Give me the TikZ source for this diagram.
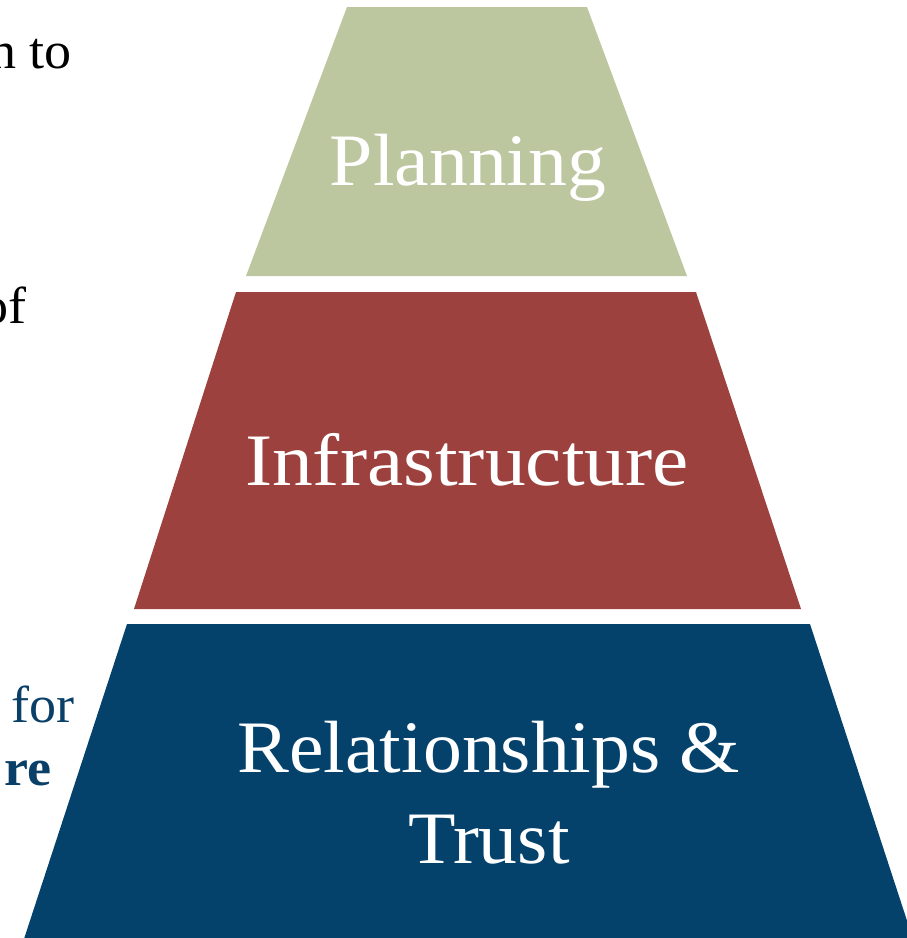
\documentclass[tikz,border=0pt]{standalone}
\usepackage{fontspec}
\setmainfont{Liberation Serif}
\newfontfamily\bigserif{Liberation Serif}[FakeStretch=1.05]
\newfontfamily\sideserif{Liberation Serif}[FakeStretch=1.04]
\definecolor{pgreen}{RGB}{189,199,159}
\definecolor{pred}{RGB}{156,65,61}
\definecolor{pblue}{RGB}{4,66,108}
\definecolor{tblue}{RGB}{10,64,104}
\tikzset{
  layerlabel/.style={text=white, inner sep=0pt, align=center,
    font=\bigserif\fontsize{74}{91}\selectfont},
  sidetext/.style={inner sep=0pt, anchor=base east,
    font=\sideserif\fontsize{52}{62}\selectfont}
}
\begin{document}
\begin{tikzpicture}[x=1pt,y=-1pt]
\useasboundingbox (0,0) rectangle (907,938);
% layers
\fill[pgreen] (347,7) -- (587,7) -- (687,276) -- (246,276) -- cycle;
\fill[pred] (236,292) -- (696,292) -- (801,609) -- (134,609) -- cycle;
\fill[pblue] (127,624) -- (810,624) -- (914,942) -- (23,942) -- cycle;
% labels
\node[layerlabel, anchor=base] (plan) at (468,185) {Planning};
\node[layerlabel, anchor=base] (infra) at (467,485) {\scalebox{1.05}[1]{Infrastructure}};
\node[layerlabel, anchor=base] (rel) at (489,863) {Relationships \&\\Trust};
% clipped side text
\node[sidetext, text=black] (t1) at (72,68) {n to};
\node[sidetext, text=black] (t2) at (27,323) {of};
\node[sidetext, text=tblue] (t3) at (75,722) {for};
\node[sidetext, text=tblue, font=\sideserif\bfseries\fontsize{52}{62}\selectfont] (t4) at (52,785) {re};
\end{tikzpicture}
\end{document}
